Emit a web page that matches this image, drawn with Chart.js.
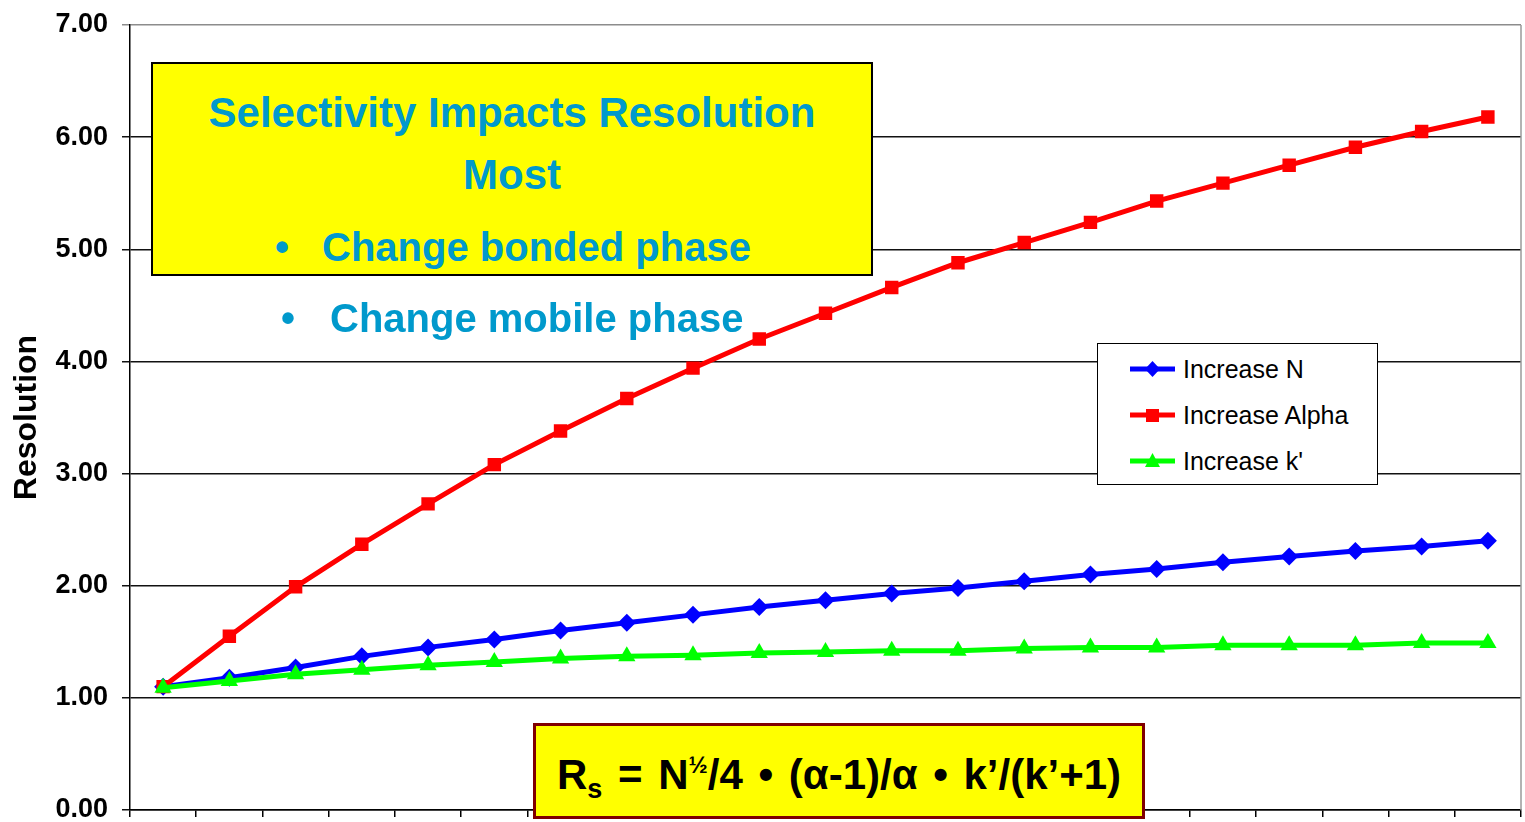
<!DOCTYPE html>
<html>
<head>
<meta charset="utf-8">
<script src="https://cdn.jsdelivr.net/npm/chart.js@4.4.1/dist/chart.umd.min.js"></script>
<style>
  html, body { margin: 0; padding: 0; background: #fff; }
  #wrap { position: relative; width: 1525px; height: 822px; font-family: 'Liberation Sans', Arial, sans-serif; }
  #chart { position: absolute; left: 0; top: 0; }
  .box { position: absolute; box-sizing: border-box; }
  .txt { position: absolute; white-space: nowrap; line-height: 1; }
  .blue-txt { color: #0099cc; font-weight: bold; }
  #noteBox { left: 151px; top: 62px; width: 722px; height: 214px; background: #ffff00; border: 2px solid #000; }
  #formulaBox { left: 533px; top: 723px; width: 612px; height: 96px; background: #ffff00; border: 3px solid #800000; }
  #formula { left: 557px; top: 754px; font-size: 42px; font-weight: bold; color: #000; word-spacing: 4px; }
  #formula sub { font-size: 27px; vertical-align: -0.35em; line-height: 0; }
  #formula sup { font-size: 23px; vertical-align: 0.7em; line-height: 0; }
  #legendBox { left: 1097px; top: 343px; width: 281px; height: 142px; background: #fff; border: 1px solid #000; }
  .lg-row { position: absolute; left: 1130px; height: 30px; display: flex; align-items: center; }
  .lg-row span { font-size: 25px; color: #000; margin-left: 8px; line-height: 1; }
</style>
</head>
<body>
<div id="wrap">
  <canvas id="chart" width="1525" height="822"></canvas>

  <div id="noteBox" class="box"></div>
  <div class="txt blue-txt" style="left:151px; width:722px; text-align:center; top:92px; font-size:42px;">Selectivity Impacts Resolution</div>
  <div class="txt blue-txt" style="left:151px; width:722px; text-align:center; top:154px; font-size:42px;">Most</div>
  <div class="txt blue-txt" style="left:275px; top:227px; font-size:40px;">•</div>
  <div class="txt blue-txt" style="left:322px; top:227px; font-size:40px;">Change bonded phase</div>
  <div class="txt blue-txt" style="left:281px; top:298px; font-size:40px;">•</div>
  <div class="txt blue-txt" style="left:330px; top:298px; font-size:40px;">Change mobile phase</div>

  <div id="formulaBox" class="box"></div>
  <div id="formula" class="txt">R<sub>s</sub> = N<sup>½</sup>/4 • (α-1)/α • k’/(k’+1)</div>

  <div id="legendBox" class="box"></div>
  <div id="legendRows"></div>
</div>

<script>
// Data
const steps = [1, 2, 3, 4, 5, 6, 7, 8, 9, 10, 11, 12, 13, 14, 15, 16, 17, 18, 19, 20, 21];
const increaseN = [1.10, 1.18, 1.27, 1.37, 1.45, 1.52, 1.60, 1.67, 1.74, 1.81, 1.87, 1.93, 1.98, 2.04, 2.10, 2.15, 2.21, 2.26, 2.31, 2.35, 2.40];
const increaseAlpha = [1.10, 1.55, 1.99, 2.37, 2.73, 3.08, 3.38, 3.67, 3.94, 4.20, 4.43, 4.66, 4.88, 5.06, 5.24, 5.43, 5.59, 5.75, 5.91, 6.05, 6.18];
const increaseK = [1.09, 1.15, 1.21, 1.25, 1.29, 1.32, 1.35, 1.37, 1.38, 1.40, 1.41, 1.42, 1.42, 1.44, 1.45, 1.45, 1.47, 1.47, 1.47, 1.49, 1.49];
const yTicks = [0, 1, 2, 3, 4, 5, 6, 7];

const seriesDefs = [
    { label: 'Increase N', data: increaseN, color: '#0000ff', style: 'rectRot', radius: 9, order: 3 },
    { label: 'Increase Alpha', data: increaseAlpha, color: '#ff0000', style: 'rect', radius: 9.5, order: 2 },
    { label: "Increase k'", data: increaseK, color: '#00ff00', style: 'triangle', radius: 10, order: 1 }
];

// right border of plot area (light grey, like the original)
const plotEdge = {
    id: 'plotEdge',
    afterDatasetsDraw(chart) {
        const { ctx, chartArea } = chart;
        ctx.save();
        ctx.strokeStyle = '#9a9a9a';
        ctx.lineWidth = 1.5;
        ctx.beginPath();
        ctx.moveTo(chartArea.right, chartArea.top);
        ctx.lineTo(chartArea.right, chartArea.bottom);
        ctx.stroke();
        ctx.restore();
    }
};

// keep the plot box where the original has it (no label overflow padding)
function noPad(scale) {
    scale.paddingTop = 0;
    scale.paddingBottom = 0;
    scale.paddingLeft = 0;
    scale.paddingRight = 0;
}

const ctx = document.getElementById('chart').getContext('2d');

new Chart(ctx, {
    type: 'line',
    data: {
        labels: steps,
        datasets: seriesDefs.map(s => ({
            label: s.label,
            data: s.data,
            borderColor: s.color,
            backgroundColor: s.color,
            pointBackgroundColor: s.color,
            pointBorderColor: s.color,
            pointStyle: s.style,
            pointRadius: s.radius,
            pointBorderWidth: 0,
            borderWidth: 5,
            tension: 0,
            fill: false,
            order: s.order
        }))
    },
    options: {
        responsive: false,
        animation: false,
        devicePixelRatio: 1,
        layout: { autoPadding: false, padding: { top: 25, right: 4, bottom: 0, left: 0 } },
        scales: {
            x: {
                type: 'category',
                offset: true,
                grid: { offset: true, drawOnChartArea: false, drawTicks: true, tickLength: 7, color: '#000', lineWidth: 1.5 },
                border: { color: '#000', width: 1.5 },
                ticks: { callback: () => '', font: { size: 1 } },
                afterFit: scale => { scale.height = 12; noPad(scale); }
            },
            y: {
                min: 0,
                max: 7,
                afterBuildTicks: scale => { scale.ticks = yTicks.map(v => ({ value: v })); },
                ticks: {
                    color: '#000',
                    padding: 14,
                    font: { family: "'Liberation Sans', Arial, sans-serif", size: 27, weight: 'bold' },
                    callback: v => Number(v).toFixed(2)
                },
                grid: {
                    tickLength: 8,
                    lineWidth: 1.5,
                    color: c => (c.tick && c.tick.value === 7) ? '#8c8c8c' : '#111'
                },
                border: { color: '#000', width: 1.5 },
                title: {
                    display: true,
                    text: 'Resolution',
                    color: '#000',
                    padding: { top: 8, bottom: 0 },
                    font: { family: "'Liberation Sans', Arial, sans-serif", size: 32, weight: 'bold' }
                },
                afterFit: scale => { scale.width = 130; noPad(scale); }
            }
        },
        plugins: {
            legend: { display: false },
            tooltip: { enabled: false }
        }
    },
    plugins: [plotEdge]
});

// HTML legend
function markerSvg(s) {
    let mark = '';
    if (s.style === 'rectRot') mark = `<polygon points="22.5,2 30,10 22.5,18 15,10" fill="${s.color}"/>`;
    else if (s.style === 'rect') mark = `<rect x="16" y="4" width="13" height="13" fill="${s.color}"/>`;
    else mark = `<polygon points="22.5,2 30,16 15,16" fill="${s.color}"/>`;
    return `<svg width="45" height="20" viewBox="0 0 45 20"><line x1="0" y1="10" x2="45" y2="10" stroke="${s.color}" stroke-width="5"/>${mark}</svg>`;
}

const rowCenters = [369, 415, 461];
document.getElementById('legendRows').innerHTML = seriesDefs.map((s, i) =>
    `<div class="lg-row" style="top:${rowCenters[i] - 15}px">${markerSvg(s)}<span>${s.label}</span></div>`
).join('');
</script>
</body>
</html>
